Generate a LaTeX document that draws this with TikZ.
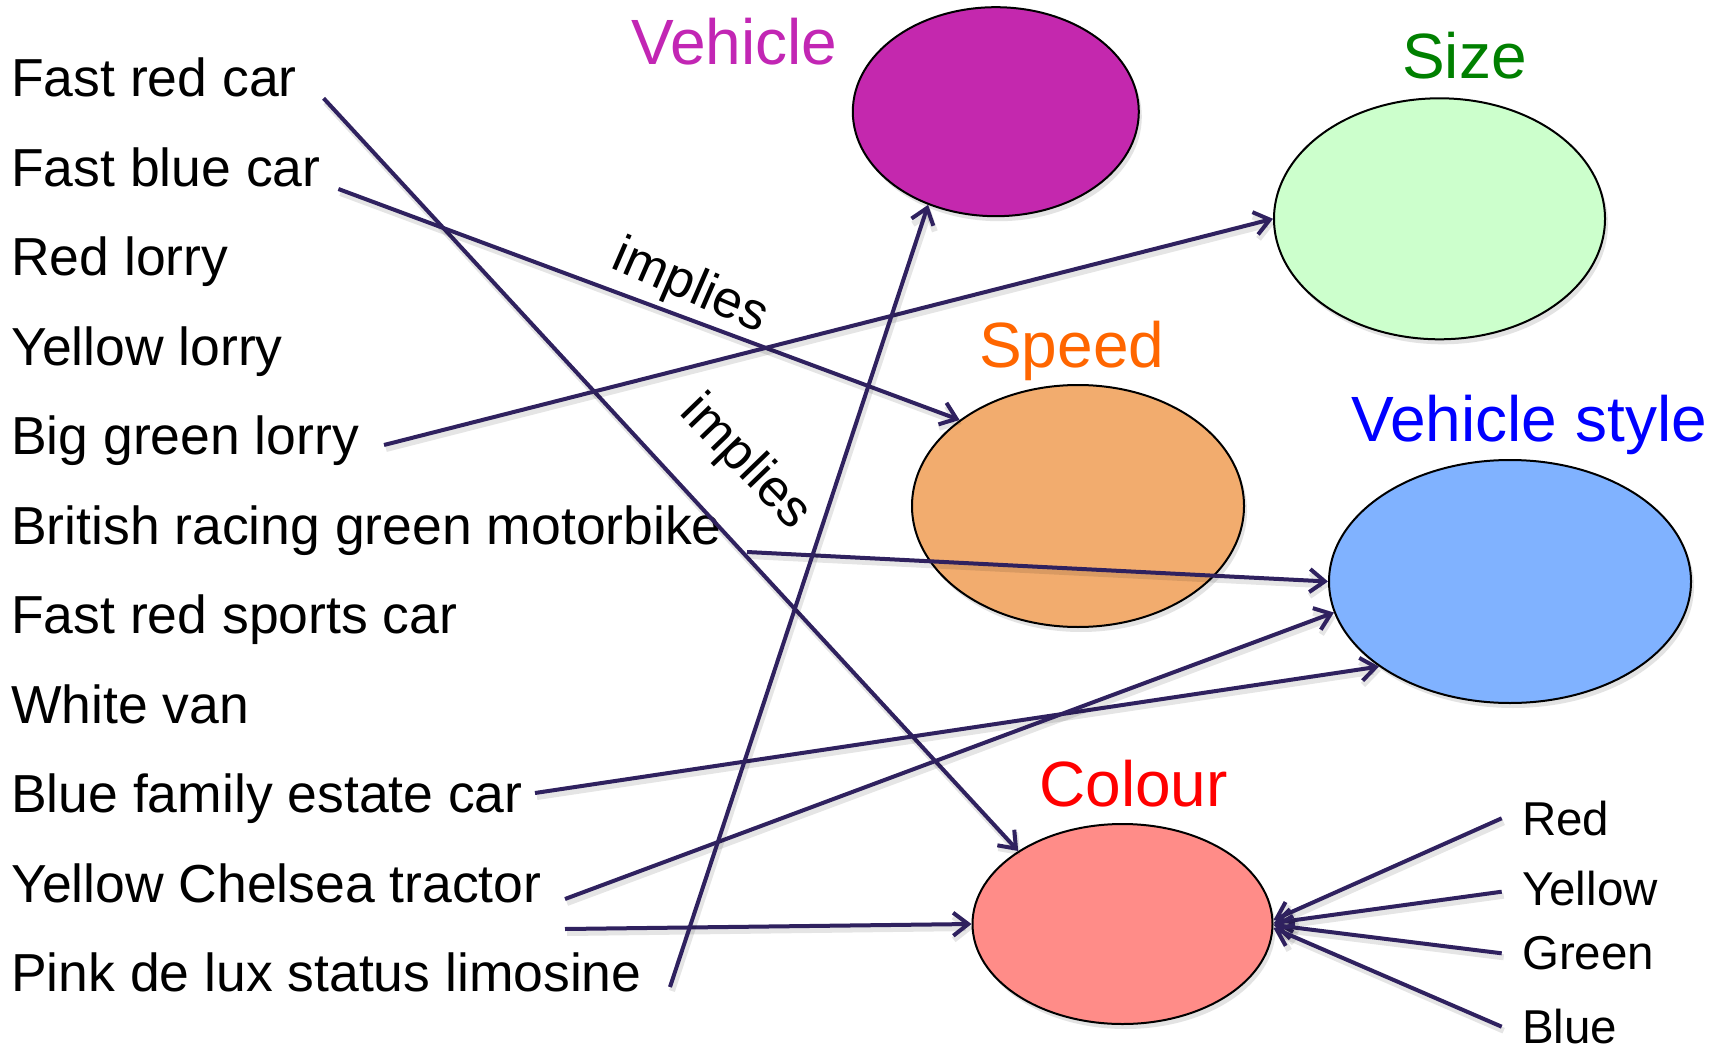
\documentclass[tikz,border=0pt]{standalone}
\usepackage{fontspec}
\setmainfont{Liberation Sans}
\usetikzlibrary{shapes.geometric,arrows.meta,shadows}

% fills of the category ellipses
\definecolor{vehfill}{RGB}{196,40,174}
\definecolor{sizefill}{RGB}{204,255,204}
\definecolor{speedfill}{RGB}{242,172,110}
\definecolor{stylefill}{RGB}{128,178,255}
\definecolor{colfill}{RGB}{255,140,136}
% category title colours
\definecolor{vehtext}{RGB}{194,38,180}
\definecolor{sizetext}{RGB}{0,128,0}
\definecolor{speedtext}{RGB}{255,102,0}
\definecolor{styletext}{RGB}{0,0,255}
\definecolor{coltext}{RGB}{255,0,0}
% connector colour
\definecolor{linkcol}{RGB}{47,33,95}

\begin{document}
\begin{tikzpicture}[x=1pt,y=-1pt,
  item/.style={anchor=base west, inner sep=0pt, font=\fontsize{53.5}{60}\selectfont},
  cat/.style={anchor=base west, inner sep=0pt, font=\fontsize{64}{72}\selectfont},
  val/.style={anchor=base west, inner sep=0pt, font=\fontsize{47.5}{54}\selectfont},
  tag/.style={inner sep=0pt, font=\fontsize{52.5}{60}\selectfont},
  blob/.style={ellipse, draw=black, line width=2pt, inner sep=0pt,
    drop shadow={opacity=0.22, shadow xshift=3pt, shadow yshift=-5pt}},
  link/.style={draw=linkcol, line width=4pt,
    -{Straight Barb[length=15pt,width=23pt]},
    preaction={draw=black, draw opacity=0.10, line width=6pt,
      transform canvas={xshift=2pt, yshift=-4pt}}},
]
\useasboundingbox (0,0) rectangle (1723,1048);
\fill[white] (0,0) rectangle (1723,1048);

% category ellipses
\node[blob, fill=vehfill,   minimum width=286pt, minimum height=209pt] (vehicle) at (995.8,111.7) {};
\node[blob, fill=sizefill,  minimum width=331pt, minimum height=241pt] (size)    at (1439.5,218.8) {};
\node[blob, fill=speedfill, minimum width=332pt, minimum height=242pt] (speed)   at (1078,506) {};
\node[blob, fill=stylefill, minimum width=362pt, minimum height=243pt] (style)   at (1510,581.5) {};
\node[blob, fill=colfill,   minimum width=300pt, minimum height=200pt] (colour)  at (1122.5,924) {};

% category titles
\node[cat, text=vehtext]   (tvehicle) at (631,65)    {Vehicle};
\node[cat, text=sizetext]  (tsize)    at (1402,79)   {Size};
\node[cat, text=speedtext] (tspeed)   at (979,367)   {Speed};
\node[cat, text=styletext] (tstyle)   at (1351,441.7) {Vehicle style};
\node[cat, text=coltext]   (tcolour)  at (1039,806)  {Colour};

% the list of vehicles
\node[item] (i1)  at (11,96.7)  {Fast red car};
\node[item] (i2)  at (11,186.2) {Fast blue car};
\node[item] (i3)  at (11,275.7) {Red lorry};
\node[item] (i4)  at (11,365.2) {Yellow lorry};
\node[item] (i5)  at (11,454.7) {Big green lorry};
\node[item] (i6)  at (11,544.2) {British racing green motorbike};
\node[item] (i7)  at (11,633.7) {Fast red sports car};
\node[item] (i8)  at (11,723.2) {White van};
\node[item] (i9)  at (11,812.7) {Blue family estate car};
\node[item] (i10) at (11,902.2) {Yellow Chelsea tractor};
\node[item] (i11) at (11,991.7) {Pink de lux status limosine};

% colour values
\node[val] (vred)    at (1522,835.3)  {Red};
\node[val] (vyellow) at (1522,905.7)  {Yellow};
\node[val] (vgreen)  at (1522,969)    {Green};
\node[val] (vblue)   at (1522,1043.5) {Blue};

% connector start points beside the texts
\coordinate (s1) at (323.6,98.3);
\coordinate (s2) at (338.4,189);
\coordinate (s3) at (384,445);
\coordinate (s4) at (747,552);
\coordinate (s5) at (535,793);
\coordinate (s6) at (565,899);
\coordinate (s7) at (565,929);
\coordinate (s8) at (670,987);
\coordinate (r1) at (1501.7,818.3);
\coordinate (r2) at (1501.7,891.7);
\coordinate (r3) at (1501.7,953.3);
\coordinate (r4) at (1501.7,1026.7);

% connectors
\draw[link] (s1) -- (colour.145.9);
\draw[link] (s2) -- (speed.144.5);
\draw[link] (s3) -- (size.west);
\draw[link] (s4) -- (style.west);
\draw[link] (s5) -- (style.213.6);
\draw[link] (s6) -- (style.190.9);
\draw[link] (s7) -- (colour.west);
\draw[link] (s8) -- (vehicle.234.5);
\draw[link] (r1) -- ([yshift=4pt]colour.east);
\draw[link] (r2) -- ([yshift=1pt]colour.east);
\draw[link] (r3) -- ([yshift=-1pt]colour.east);
\draw[link] (r4) -- ([yshift=-4pt]colour.east);

% relation labels
\node[tag, rotate=-23.5] (imp1) at (690,288) {implies};
\node[tag, rotate=-46]   (imp2) at (745,463) {implies};
\end{tikzpicture}
\end{document}
